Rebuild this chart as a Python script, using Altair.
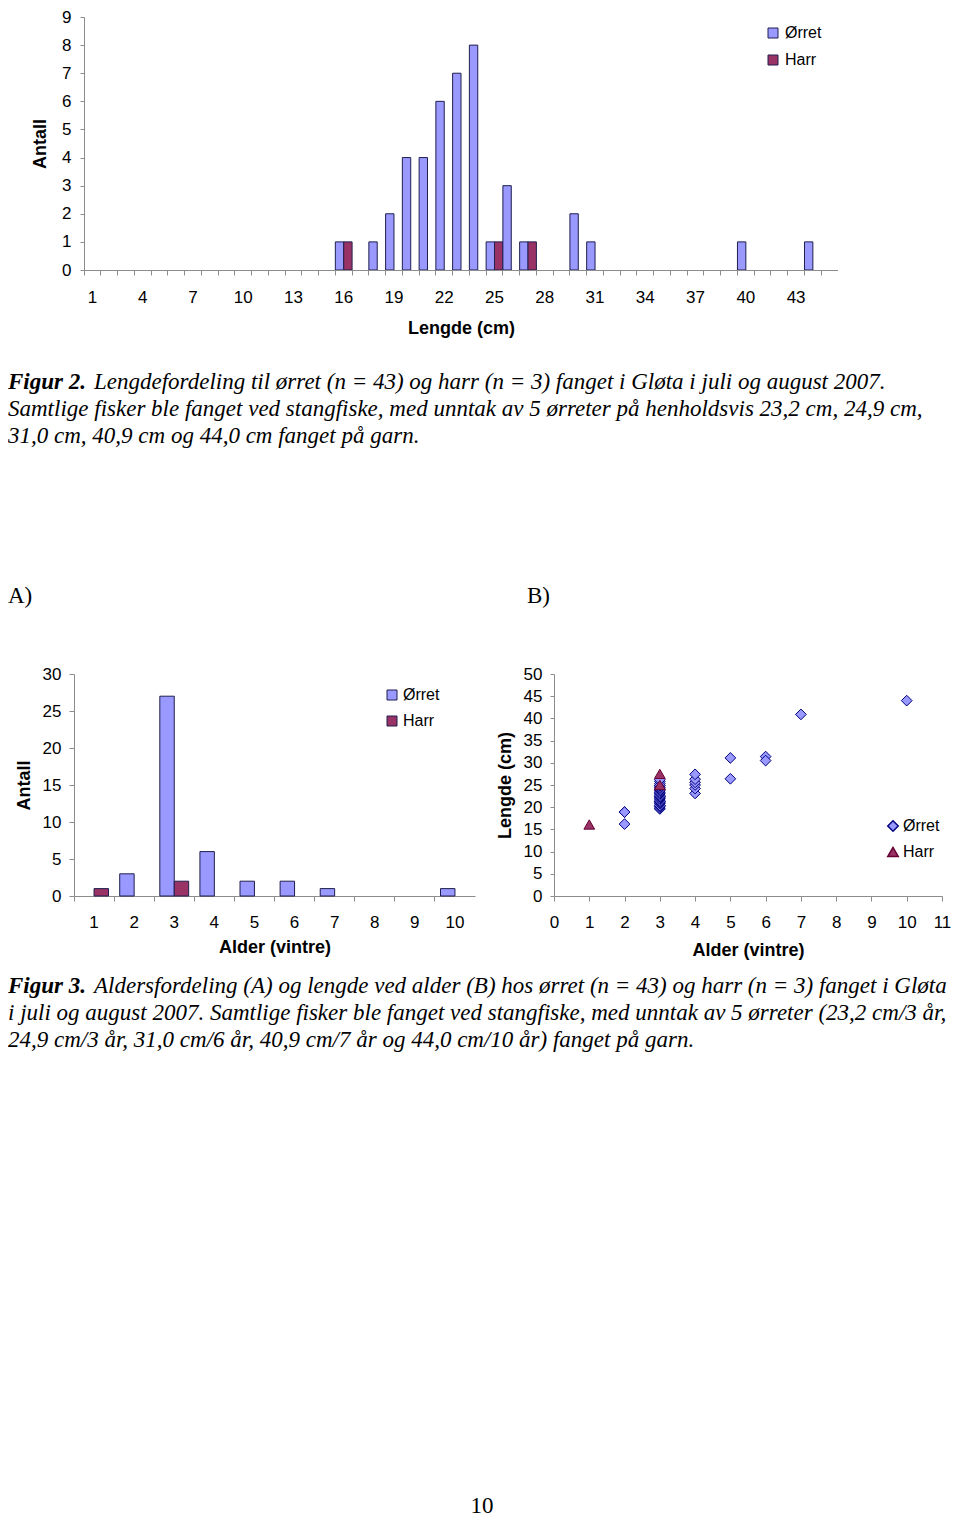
import altair as alt
import pandas as pd

# ---------------- data ----------------
species = ["Ørret", "Harr"]
bar_colors = ["#9999FF", "#993366"]

# Figure 2: length distribution (cm classes 1..45)
length_cm = list(range(1, 46))
orret_len_counts = [0, 0, 0, 0, 0, 0, 0, 0, 0, 0, 0, 0, 0, 0, 0,
                    1, 0, 1, 2, 4, 4, 6, 7, 8, 1, 3, 1, 0, 0, 2,
                    1, 0, 0, 0, 0, 0, 0, 0, 0, 1, 0, 0, 0, 1, 0]
harr_len_counts = [0, 0, 0, 0, 0, 0, 0, 0, 0, 0, 0, 0, 0, 0, 0,
                   1, 0, 0, 0, 0, 0, 0, 0, 0, 1, 0, 1, 0, 0, 0,
                   0, 0, 0, 0, 0, 0, 0, 0, 0, 0, 0, 0, 0, 0, 0]
len_ticks = list(range(0, 10))

# Figure 3A: age distribution
age_classes = list(range(1, 11))
orret_age_counts = [0, 3, 27, 6, 2, 2, 1, 0, 0, 1]
harr_age_counts = [1, 0, 2, 0, 0, 0, 0, 0, 0, 0]
age_count_ticks = [0, 5, 10, 15, 20, 25, 30]

# Figure 3B: length at age
orret_age = [2, 2, 2,
             3, 3, 3, 3, 3, 3, 3, 3, 3, 3, 3, 3, 3, 3, 3, 3, 3, 3, 3, 3, 3, 3, 3, 3, 3, 3, 3,
             4, 4, 4, 4, 4, 4,
             5, 5, 6, 6, 7, 10]
orret_length = [18.9, 18.9, 16.2,
                19.6, 19.8, 20.1, 20.4, 20.4, 20.8, 21.0, 21.3, 21.3, 21.6, 21.9, 22.1, 22.4,
                22.4, 22.7, 23.0, 23.2, 23.4, 23.7, 24.0, 24.3, 24.5, 24.8, 24.9, 25.3, 25.8, 26.2,
                23.1, 24.2, 25.0, 25.6, 26.3, 27.4,
                31.1, 26.4, 31.4, 30.5, 40.9, 44.0]
harr_age = [1, 3, 3]
harr_length = [16.1, 27.5, 25.0]
age_ticks = list(range(0, 12))
length_ticks = list(range(0, 55, 5))

# texts
cap2_bold = "Figur 2."
cap2_lines = [
    "Lengdefordeling til ørret (n = 43) og harr (n = 3) fanget i Gløta i juli og august 2007.",
    "Samtlige fisker ble fanget ved stangfiske, med unntak av 5 ørreter på henholdsvis 23,2 cm, 24,9 cm,",
    "31,0 cm, 40,9 cm og 44,0 cm fanget på garn.",
]
cap3_bold = "Figur 3."
cap3_lines = [
    "Aldersfordeling (A) og lengde ved alder (B) hos ørret (n = 43) og harr (n = 3) fanget i Gløta",
    "i juli og august 2007. Samtlige fisker ble fanget ved stangfiske, med unntak av 5 ørreter  (23,2 cm/3 år,",
    "24,9 cm/3 år, 31,0 cm/6 år, 40,9 cm/7 år og 44,0 cm/10 år) fanget på garn.",
]
panel_labels = ["A)", "B)"]
page_number = "10"

# ---------------- style ----------------
SANS = "Liberation Sans"
SERIF = "Liberation Serif"
GRAY = "#8c8c8c"
BAR_STROKE = "#1f1f4f"


def bars_df(cats, orret, harr):
    rows = []
    for c, o, h in zip(cats, orret, harr):
        if o:
            rows.append({"cat": c, "art": "Ørret", "n": o})
        if h:
            rows.append({"cat": c, "art": "Harr", "n": h})
    return pd.DataFrame(rows)


def axis(**kw):
    base = dict(domainColor=GRAY, tickColor=GRAY, labelColor="black", labelFont=SANS,
                labelFontSize=17, titleFont=SANS, titleFontSize=18, titleFontWeight="bold",
                titleColor="black", grid=False, tickSize=5, domainWidth=1, tickWidth=1,
                labelFlush=False, labelOverlap=False)
    base.update(kw)
    return alt.Axis(**base)


def txt(text, x, y, bold=False, italic=True, align="left"):
    return alt.Chart(pd.DataFrame({"k": [0]})).mark_text(
        align=align, baseline="middle", font=SERIF, fontSize=23, color="black",
        fontStyle="italic" if italic else "normal",
        fontWeight="bold" if bold else "normal",
    ).encode(x=alt.value(x), y=alt.value(y), text=alt.value(text))


def bar_legend(x, y, rowpad, loff):
    return alt.Legend(orient="none", legendX=x, legendY=y, title=None, symbolType="square",
                      symbolSize=100, symbolStrokeColor=BAR_STROKE, symbolStrokeWidth=1,
                      labelFont=SANS, labelFontSize=16, labelColor="black", rowPadding=rowpad,
                      padding=0, labelOffset=loff)


# common column origin (page x of the plot area of the top chart and of panel A)
TX = 74

# ---------------- Figure 2 (top) ----------------
SHIFT = 10               # the top y axis sits 10 px right of the column origin
W1, H1 = 754 + SHIFT, 253
TY = 16                  # page y of the top plot area
step1 = 754 / len(length_cm)
po1 = SHIFT / (2 * step1)

df2 = bars_df(length_cm, orret_len_counts, harr_len_counts)
top_bars = alt.Chart(df2).mark_bar(stroke=BAR_STROKE, strokeWidth=1).encode(
    x=alt.X("cat:O", scale=alt.Scale(domain=length_cm, paddingInner=0, paddingOuter=po1,
                                     align=1),
            axis=axis(title="Lengde (cm)", bandPosition=0, domain=False,
                      labelAngle=0, labelPadding=14, titlePadding=14,
                      titleX=(SHIFT + W1) / 2,
                      labelExpr="(datum.value - 1) % 3 == 0 ? datum.label : ''")),
    xOffset=alt.XOffset("art:N", scale=alt.Scale(domain=species, paddingInner=0, paddingOuter=0,
                                                 range=[0, step1])),
    y=alt.Y("n:Q", scale=alt.Scale(domain=[0, 9], nice=False),
            axis=axis(title="Antall", values=len_ticks, tickSize=4, labelPadding=9,
                      titlePadding=12, offset=-SHIFT)),
    color=alt.Color("art:N", scale=alt.Scale(domain=species, range=bar_colors),
                    legend=bar_legend(765 - TX, 24 - TY, 11, 4)),
)
# x axis baseline (starts at the y axis)
top_baseline = alt.Chart(pd.DataFrame({"k": [0]})).mark_rule(color=GRAY, strokeWidth=1).encode(
    x=alt.value(SHIFT), x2=alt.value(W1), y=alt.value(H1 + 0.5))

top_texts = [
    txt(cap2_bold, 8 - TX, 381 - TY, bold=True),
    txt(cap2_lines[0], 94 - TX, 381 - TY),
    txt(cap2_lines[1], 8 - TX, 408 - TY),
    txt(cap2_lines[2], 8 - TX, 435 - TY),
    txt(panel_labels[0], 8 - TX, 595 - TY, italic=False),
    txt(panel_labels[1], 527 - TX, 595 - TY, italic=False),
]
top = alt.layer(top_bars, top_baseline, *top_texts).properties(width=W1, height=H1)

# ---------------- Figure 3A ----------------
AY = 673
WA, HA = 401, 222
stepA = WA / len(age_classes)
dfA = bars_df(age_classes, orret_age_counts, harr_age_counts)
barsA = alt.Chart(dfA).mark_bar(stroke=BAR_STROKE, strokeWidth=1).encode(
    x=alt.X("cat:O", scale=alt.Scale(domain=age_classes, paddingInner=0, paddingOuter=0),
            axis=axis(title="Alder (vintre)", bandPosition=0,
                      labelAngle=0, labelPadding=13, titlePadding=8)),
    xOffset=alt.XOffset("art:N", scale=alt.Scale(domain=species, paddingInner=0,
                                                 paddingOuter=0,
                                                 range=[0.14 * stepA, 0.86 * stepA])),
    y=alt.Y("n:Q", scale=alt.Scale(domain=[0, 30], nice=False),
            axis=axis(title="Antall", values=age_count_ticks, tickSize=5, labelPadding=8,
                      titlePadding=9)),
    color=alt.Color("art:N", scale=alt.Scale(domain=species, range=bar_colors),
                    legend=bar_legend(384 - TX, 686 - AY, 10, 3)),
)
A_texts = [
    txt(cap3_bold, 8 - TX, 985 - AY, bold=True),
    txt(cap3_lines[0], 94 - TX, 985 - AY),
    txt(cap3_lines[1], 8 - TX, 1012 - AY),
    txt(cap3_lines[2], 8 - TX, 1039 - AY),
    txt(page_number, 482 - TX, 1505 - AY, italic=False, align="center"),
]
chartA = alt.layer(barsA, *A_texts).properties(width=WA, height=HA)

# ---------------- Figure 3B ----------------
BX = 554
WB, HB = 388, 222
dfB = pd.DataFrame({
    "alder": orret_age + harr_age,
    "lengde": orret_length + harr_length,
    "art": ["Ørret"] * len(orret_age) + ["Harr"] * len(harr_age),
})
legB = dict(orient="none", legendX=885 - BX, legendY=817 - AY, title=None,
            labelFont=SANS, labelFontSize=16, labelColor="black", rowPadding=9,
            padding=0, labelOffset=2, symbolSize=110)
scatter = alt.Chart(dfB).mark_point(filled=True, size=115, strokeWidth=1, opacity=1).encode(
    x=alt.X("alder:Q", scale=alt.Scale(domain=[0, 11], nice=False),
            axis=axis(title="Alder (vintre)", values=age_ticks, labelPadding=13, titlePadding=11)),
    y=alt.Y("lengde:Q", scale=alt.Scale(domain=[0, 50], nice=False),
            axis=axis(title="Lengde (cm)", values=length_ticks, tickSize=4, labelPadding=8,
                      titlePadding=9)),
    fill=alt.Fill("art:N", scale=alt.Scale(domain=species, range=["#9999FF", "#993366"]),
                  legend=alt.Legend(**legB)),
    stroke=alt.Stroke("art:N", scale=alt.Scale(domain=species, range=["#000080", "#660033"]),
                      legend=alt.Legend(**legB)),
    shape=alt.Shape("art:N", scale=alt.Scale(domain=species, range=["diamond", "triangle-up"]),
                    legend=alt.Legend(**legB)),
).properties(width=WB, height=HB)

indep_scale = dict(color="independent", fill="independent", stroke="independent",
                   shape="independent", xOffset="independent", x="independent",
                   y="independent")
indep_leg = dict(color="independent", fill="independent", stroke="independent",
                 shape="independent")
row2 = alt.hconcat(chartA, scatter, spacing=BX - TX - WA, bounds="flush").resolve_scale(
    **indep_scale).resolve_legend(**indep_leg)
chart = alt.vconcat(top, row2, spacing=AY - TY - H1, bounds="flush").resolve_scale(
    **indep_scale).resolve_legend(**indep_leg).properties(
    padding=0, background="white"
).configure_view(stroke=None)

chart.save("out.html", embed_options={"renderer": "svg", "actions": False})
